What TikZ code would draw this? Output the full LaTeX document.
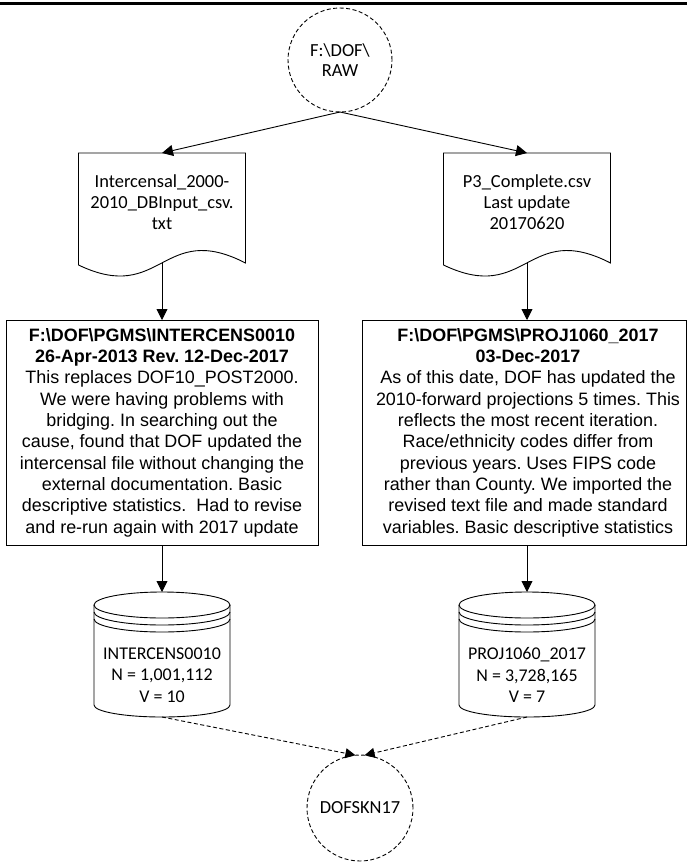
\documentclass[tikz,border=0pt]{standalone}
\usepackage{fontspec}
\setmainfont{Liberation Sans}
\newfontfamily\calfont{Carlito}
\usetikzlibrary{arrows.meta,calc}
\frenchspacing

\newcommand\docshape[1]{%
  \draw (#1.north west) -- (#1.north east) -- (#1.south east)
    .. controls ($(#1.south)+(0,-43)$) and ($(#1.south)+(0,42)$) .. ($(#1.south west)+(0,2)$) -- cycle;}
\newcommand\cylshape[1]{%
  \draw ($(#1.north)+(0,13)$) ellipse [x radius=68, y radius=13];
  \draw ($(#1.north west)+(0,20)$) arc[start angle=180, end angle=0, x radius=68, y radius=13];
  \draw ($(#1.north west)+(0,27)$) arc[start angle=180, end angle=0, x radius=68, y radius=13];
  \draw ($(#1.north west)+(0,13)$) -- ($(#1.south west)+(0,-12)$)
    arc[start angle=180, end angle=0, x radius=68, y radius=12] -- ($(#1.north east)+(0,13)$);}

\begin{document}
\begin{tikzpicture}[x=1bp,y=-1bp,
  line width=0.9bp,
  every node/.style={inner sep=0pt, outer sep=0pt},
  arr/.style={-{Triangle[length=11bp,width=11bp]}},
  darr/.style={dash pattern=on 4bp off 2.5bp, -{Triangle[length=10bp,width=10bp]}},
  dsh/.style={dash pattern=on 4bp off 2.5bp},
  circ/.style={circle, draw, dsh, align=center, font=\calfont\fontsize{18.5}{20.5}\selectfont},
  docbox/.style={rectangle, minimum width=167bp, minimum height=110bp},
  doctext/.style={align=center, font=\calfont\fontsize{18.5}{20.8}\selectfont},
  cyltext/.style={align=center, font=\calfont\fontsize{18}{21.8}\selectfont},
  procbox/.style={rectangle, align=center, minimum height=225bp, font=\fontsize{18}{21.4}\selectfont},
  cylbox/.style={rectangle, minimum width=136bp, minimum height=125bp},
]
\useasboundingbox (0,0) rectangle (687,863);
\fill[white] (0,0) rectangle (687,863);
\draw[line width=2.2bp] (0,3.5) -- (687,3.5);

% top circle
\node[circ, minimum size=104bp] (raw) at (340,60) {F:\textbackslash DOF\textbackslash\\RAW};

% documents
\node[docbox] (ldoc) at (162,208) {};
\docshape{ldoc}
\node[doctext] (ldoct) at (162,202) {Intercensal\_2000-\\2010\_DBInput\_csv.\\txt};
\node[docbox] (rdoc) at (527,208) {};
\docshape{rdoc}
\node[doctext] (rdoct) at (527,202) {P3\_Complete.csv\\Last update\\20170620};

% process boxes
\node[procbox, draw, minimum width=312bp] (lbox) at (162,432.5) {%
\textbf{F:\textbackslash DOF\textbackslash PGMS\textbackslash INTERCENS0010}\\
\textbf{26-Apr-2013 Rev. 12-Dec-2017}\\
This replaces DOF10\_POST2000.\\
We were having problems with\\
bridging. In searching out the\\
cause, found that DOF updated the\\
intercensal file without changing the\\
external documentation. Basic\\
descriptive statistics.~ Had to revise\\
and re-run again with 2017 update};

\node[procbox, minimum width=332bp] (rbox) at (528,432.5) {%
\textbf{F:\textbackslash DOF\textbackslash PGMS\textbackslash PROJ1060\_2017}\\
\textbf{03-Dec-2017}\\
As of this date, DOF has updated the\\
2010-forward projections 5 times. This\\
reflects the most recent iteration.\\
Race/ethnicity codes differ from\\
previous years. Uses FIPS code\\
rather than County. We imported the\\
revised text file and made standard\\
variables. Basic descriptive statistics};
\draw (rbox.north west) rectangle ([xshift=-8bp]rbox.south east);

% cylinders
\node[cylbox] (lcyl) at (162,654.5) {};
\cylshape{lcyl}
\node[cyltext] (lcylt) at (162,675) {INTERCENS0010\\N = 1,001,112\\V = 10};
\node[cylbox] (rcyl) at (527,654.5) {};
\cylshape{rcyl}
\node[cyltext] (rcylt) at (527,675) {PROJ1060\_2017\\N = 3,728,165\\V = 7};

% bottom circle
\node[circ, minimum size=106bp] (dof) at (360,808) {DOFSKN17};

% connectors
\draw[arr] (raw.south) -- (ldoc.north);
\draw[arr] (raw.south) -- (rdoc.north);
\draw[arr] (ldoc.south) -- (lbox.north);
\draw[arr] (rdoc.south) -- (rbox.north -| rdoc.south);
\draw[arr] (lbox.south) -- (lcyl.north);
\draw[arr] (rbox.south -| rcyl.north) -- (rcyl.north);
\draw[darr] (lcyl.south) -- (dof.95);
\draw[darr] (rcyl.south) -- (dof.85);
\end{tikzpicture}
\end{document}
